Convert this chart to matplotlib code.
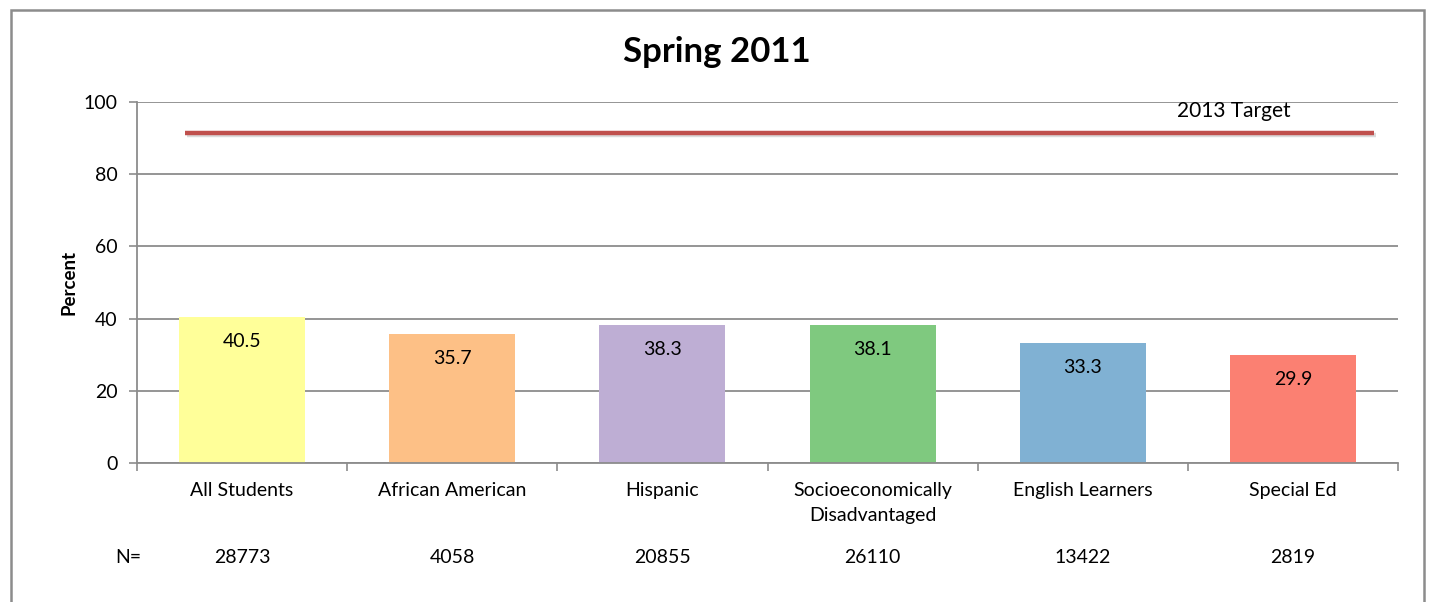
import matplotlib.pyplot as plt
import matplotlib.patches as mpatches
import matplotlib.transforms as mtransforms
import matplotlib.patheffects as pe

plt.rcParams['font.family'] = ['Lato', 'DejaVu Sans']

# datos
grupos = ['All Students', 'African American', 'Hispanic',
          'Socioeconomically\nDisadvantaged', 'English Learners', 'Special Ed']
porcentaje = [40.5, 35.7, 38.3, 38.1, 33.3, 29.9]
n_alumnos = [28773, 4058, 20855, 26110, 13422, 2819]
colores = ['#FFFF99', '#FDC086', '#BEAED4', '#7FC97F', '#80B1D3', '#FB8072']
objetivo_2013 = 91.5

fig = plt.figure(figsize=(14.29, 6.02), dpi=100)
ax = fig.add_axes([0.0959, 0.2309, 0.8824, 0.5997])

# marco del grafico
marco = mpatches.Rectangle((11 / 1429, -0.05), (1424 - 11) / 1429, 1.05 - 10 / 602,
                           transform=fig.transFigure, fill=False,
                           edgecolor='#8C8C8C', linewidth=1.8)
fig.patches.append(marco)

x = list(range(len(grupos)))
ax.bar(x, porcentaje, width=0.6, color=colores, zorder=2)

for xi, v in zip(x, porcentaje):
    ax.annotate(f'{v:.1f}', (xi, v), xytext=(0, -17.5), textcoords='offset points',
                ha='center', va='center', fontsize=14, color='black', zorder=3)

# linea objetivo
ax.plot([-0.27, 5.385], [objetivo_2013, objetivo_2013], color='#C0504D', linewidth=3.2,
        solid_capstyle='butt', zorder=4,
        path_effects=[pe.SimpleLineShadow(offset=(1.5, -2), shadow_color='#999999', alpha=0.35),
                      pe.Normal()])
ax.text(4.45, 97.5, '2013 Target', fontsize=15, ha='left', va='center')

ax.set_xlim(-0.5, 5.5)
ax.set_ylim(0, 100)
ax.set_yticks([0, 20, 40, 60, 80, 100])
ax.tick_params(axis='y', labelsize=14, length=6, width=1.2, color='#8C8C8C', pad=8)
ax.yaxis.grid(True, color='#8C8C8C', linewidth=1.3, zorder=0)
ax.set_axisbelow(True)

ax.set_xticks([i - 0.5 for i in range(len(grupos) + 1)])
ax.set_xticklabels([])
ax.tick_params(axis='x', which='major', length=6, width=1.2, color='#8C8C8C')
ax.set_xticks(x, minor=True)
ax.set_xticklabels(grupos, minor=True, fontsize=14, va='top', linespacing=1.55)
ax.tick_params(axis='x', which='minor', length=0, pad=14)

for lado in ['top', 'right']:
    ax.spines[lado].set_visible(False)
for lado in ['left', 'bottom']:
    ax.spines[lado].set_color('#8C8C8C')
    ax.spines[lado].set_linewidth(1.3)

ax.set_ylabel('Percent', fontsize=13.5, fontweight='bold', labelpad=4.5)
fig.text(717 / 1429, 1 - 52 / 602, 'Spring 2011', fontsize=25, fontweight='bold',
         ha='center', va='center')

# fila de N
trans = mtransforms.blended_transform_factory(ax.transData, ax.transAxes)
ax.text(-0.54, -0.263, 'N=', transform=trans, ha='center', va='center', fontsize=14)
for xi, n in zip(x, n_alumnos):
    ax.text(xi, -0.263, str(n), transform=trans, ha='center', va='center', fontsize=14)

fig.savefig('out.png', dpi=100)
